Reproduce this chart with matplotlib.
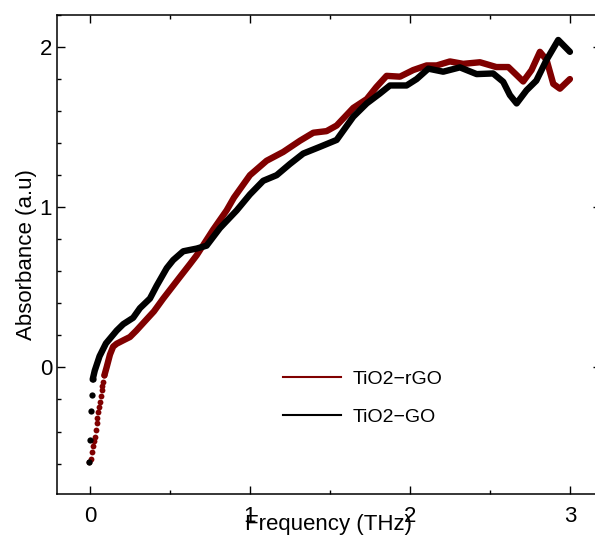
import numpy as np
import matplotlib
matplotlib.use("Agg")
import matplotlib.pyplot as plt
from matplotlib.lines import Line2D
from matplotlib.ticker import MultipleLocator

plt.rcParams['font.family'] = ['Liberation Sans', 'DejaVu Sans']

# --- data (THz, a.u.) ---
# sparse points at the very start, drawn as separate dots
rgo_dots_x = [-0.006, 0.004, 0.012, 0.02, 0.026, 0.031, 0.037, 0.042, 0.047, 0.052, 0.057, 0.0625, 0.068, 0.073, 0.078, 0.083, 0.09]
rgo_dots_y = [-0.59, -0.57, -0.53, -0.49, -0.46, -0.435, -0.39, -0.35, -0.315, -0.28, -0.25, -0.217, -0.18, -0.144, -0.115, -0.09, -0.05]
go_dots_x = [-0.006, 0.0, 0.006, 0.011, 0.017]
go_dots_y = [-0.59, -0.45, -0.27, -0.175, -0.075]

# continuous parts
rgo_x = [0.09, 0.104, 0.125, 0.145, 0.167, 0.21, 0.25, 0.29, 0.354, 0.40, 0.458, 0.5625, 0.625,
         0.667, 0.77, 0.854, 0.90, 1.0, 1.104, 1.208, 1.3125, 1.396, 1.479, 1.542, 1.646, 1.73,
         1.79, 1.854, 1.9375, 2.02, 2.104, 2.167, 2.25, 2.333, 2.4375, 2.54, 2.615, 2.667, 2.708,
         2.76, 2.8125, 2.854, 2.896, 2.9375, 3.0]
rgo_y = [-0.05, 0.0, 0.08, 0.13, 0.148, 0.17, 0.19, 0.23, 0.30, 0.35, 0.43, 0.565, 0.645,
         0.70, 0.86, 0.98, 1.06, 1.20, 1.29, 1.345, 1.415, 1.465, 1.475, 1.51, 1.62, 1.675,
         1.75, 1.82, 1.815, 1.856, 1.885, 1.885, 1.91, 1.895, 1.905, 1.875, 1.875, 1.825, 1.785,
         1.856, 1.97, 1.92, 1.77, 1.74, 1.80]

go_x = [0.017, 0.03, 0.06, 0.10, 0.167, 0.208, 0.27, 0.3125, 0.375, 0.417, 0.48, 0.52, 0.583,
        0.667, 0.729, 0.8125, 0.917, 1.0, 1.083, 1.167, 1.25, 1.333, 1.4375, 1.542, 1.646,
        1.73, 1.8125, 1.875, 1.979, 2.042, 2.115, 2.208, 2.3125, 2.417, 2.52, 2.583, 2.625,
        2.667, 2.729, 2.79, 2.854, 2.927, 3.0]
go_y = [-0.075, -0.02, 0.07, 0.15, 0.23, 0.27, 0.31, 0.37, 0.43, 0.51, 0.62, 0.67, 0.725,
        0.742, 0.76, 0.87, 0.98, 1.08, 1.165, 1.20, 1.27, 1.335, 1.377, 1.42, 1.565,
        1.648, 1.71, 1.76, 1.76, 1.80, 1.865, 1.846, 1.873, 1.831, 1.835, 1.783, 1.70,
        1.648, 1.73, 1.79, 1.92, 2.044, 1.97]

labels = ["TiO2\u2212rGO", "TiO2\u2212GO"]
colors = ["#800000", "#000000"]

fig = plt.figure(figsize=(5.95, 5.41), dpi=100)
# right edge sits past the figure, so the right spine is cut off like the reference
ax = fig.add_axes([0.0958, 0.0869, 0.9142, 0.8854])

ax.plot(rgo_x, rgo_y, color=colors[0], lw=4.6, solid_capstyle='round', solid_joinstyle='round')
ax.plot(rgo_dots_x, rgo_dots_y, 'o', color=colors[0], ms=4.2, mec='none')
ax.plot(go_x, go_y, color=colors[1], lw=4.6, solid_capstyle='round', solid_joinstyle='round')
ax.plot(go_dots_x, go_dots_y, 'o', color=colors[1], ms=4.5, mec='none')

ax.set_xlim(-0.206, 3.194)
ax.set_ylim(-0.79, 2.2)
ax.xaxis.set_major_locator(MultipleLocator(1))
ax.xaxis.set_minor_locator(MultipleLocator(0.5))
ax.yaxis.set_major_locator(MultipleLocator(1))
ax.yaxis.set_minor_locator(MultipleLocator(0.2))
ax.tick_params(which='both', direction='in', top=True, right=True, width=1.0, labelsize=16)
ax.tick_params(which='major', length=6)
ax.tick_params(which='minor', length=3)
ax.tick_params(axis='x', pad=9)
for s in ax.spines.values():
    s.set_linewidth(1.1)

ax.set_xlabel("Frequency (THz)", fontsize=16, labelpad=-10)
ax.set_ylabel("Absorbance (a.u)", fontsize=16, labelpad=2)

handles = [Line2D([], [], color=c, lw=1.5) for c in colors]
ax.legend(handles, labels, loc='upper left', bbox_to_anchor=(0.383, 0.294), frameon=False,
          fontsize=14, handlelength=3.0, handletextpad=0.6, labelspacing=1.05)

fig.savefig("out.png", dpi=100)
